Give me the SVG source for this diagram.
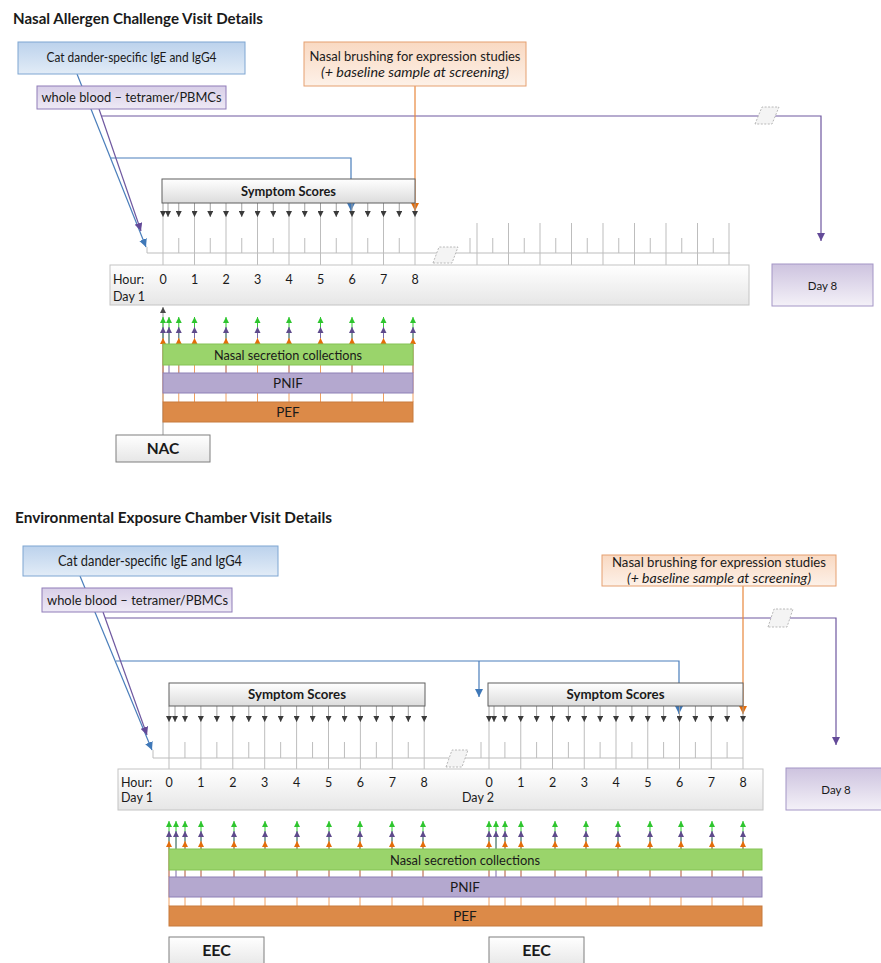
<svg xmlns="http://www.w3.org/2000/svg" width="881" height="963" viewBox="0 0 881 963">
<defs>
<style>
text{font-family:Lato,"Liberation Sans",sans-serif;fill:#1a1a1a}
.ttl{font-size:15px;font-weight:bold}
.lbl{font-size:13.5px}
.it{font-style:italic}
.b{font-weight:bold}
.num{font-size:12.5px}
.mid{text-anchor:middle}
.tk{stroke:#bdbdbd;stroke-width:1;fill:none}
.sa{stroke:#a0a0a0;stroke-width:1;marker-end:url(#mGray)}
.ug{stroke:#33cc33;stroke-width:1;marker-end:url(#mGreen)}
.up{stroke:#7a68a6;stroke-width:1;marker-end:url(#mPurpleS)}
.uo{stroke:#f0a060;stroke-width:1;marker-end:url(#mOrangeS)}
.cb{stroke:#4a7ebb;stroke-width:1.2;fill:none}
.cp{stroke:#6f58a0;stroke-width:1.2;fill:none}
.co{stroke:#e8873c;stroke-width:1.2;fill:none}
.brk{fill:#f4f4f4;stroke:#a8a8a8;stroke-width:0.8;stroke-dasharray:2 1.5}
</style>
<linearGradient id="gBlue" x1="0" y1="0" x2="0" y2="1"><stop offset="0" stop-color="#bcd2ec"/><stop offset="1" stop-color="#e2ecf7"/></linearGradient>
<linearGradient id="gPur" x1="0" y1="0" x2="0" y2="1"><stop offset="0" stop-color="#d8cfe8"/><stop offset="1" stop-color="#eee9f5"/></linearGradient>
<linearGradient id="gOra" x1="0" y1="0" x2="0" y2="1"><stop offset="0" stop-color="#f9d9c2"/><stop offset="1" stop-color="#fdf1e8"/></linearGradient>
<linearGradient id="gDay" x1="0" y1="0" x2="0" y2="1"><stop offset="0" stop-color="#cdc3df"/><stop offset="1" stop-color="#f4f1f8"/></linearGradient>
<linearGradient id="gGray" x1="0" y1="0" x2="0" y2="1"><stop offset="0" stop-color="#ffffff"/><stop offset="1" stop-color="#e6e6e6"/></linearGradient>
<linearGradient id="gSym" x1="0" y1="0" x2="0" y2="1"><stop offset="0" stop-color="#ffffff"/><stop offset="1" stop-color="#dcdcdc"/></linearGradient>
<marker id="mGray" viewBox="0 0 6 6" refX="6" refY="3" markerWidth="6" markerHeight="6" markerUnits="userSpaceOnUse" orient="auto"><path d="M0,0L6,3L0,6z" fill="#3a3a3a"/></marker>
<marker id="mDark" viewBox="0 0 6 6" refX="6" refY="3" markerWidth="6" markerHeight="6" markerUnits="userSpaceOnUse" orient="auto"><path d="M0,0L6,3L0,6z" fill="#4a4a4a"/></marker>
<marker id="mGreen" viewBox="0 0 6 6" refX="6" refY="3" markerWidth="6" markerHeight="7" markerUnits="userSpaceOnUse" orient="auto"><path d="M0,0L6,3L0,6z" fill="#2ec52e"/></marker>
<marker id="mPurpleS" viewBox="0 0 6 6" refX="6" refY="3" markerWidth="6" markerHeight="7" markerUnits="userSpaceOnUse" orient="auto"><path d="M0,0L6,3L0,6z" fill="#5e4a8c"/></marker>
<marker id="mOrangeS" viewBox="0 0 6 6" refX="6" refY="3" markerWidth="6" markerHeight="7" markerUnits="userSpaceOnUse" orient="auto"><path d="M0,0L6,3L0,6z" fill="#e46c0a"/></marker>
<marker id="mBlue" viewBox="0 0 8 8" refX="8" refY="4" markerWidth="8" markerHeight="8" markerUnits="userSpaceOnUse" orient="auto"><path d="M0,0L8,4L0,8z" fill="#3f78b8"/></marker>
<marker id="mPurple" viewBox="0 0 8 8" refX="8" refY="4" markerWidth="8" markerHeight="8" markerUnits="userSpaceOnUse" orient="auto"><path d="M0,0L8,4L0,8z" fill="#634a98"/></marker>
<marker id="mOrange" viewBox="0 0 8 8" refX="8" refY="4" markerWidth="8" markerHeight="8" markerUnits="userSpaceOnUse" orient="auto"><path d="M0,0L8,4L0,8z" fill="#e46c0a"/></marker>
</defs>
<rect width="881" height="963" fill="#ffffff"/>

<!-- ================= TOP SECTION ================= -->
<text id="title-nac" class="ttl" x="13" y="24" textLength="250" lengthAdjust="spacingAndGlyphs">Nasal Allergen Challenge Visit Details</text>

<g id="connectors-top">
<line class="cb" x1="77" y1="74" x2="146" y2="247" marker-end="url(#mBlue)"/>
<polyline class="cb" points="111,158 351,158 351,211" marker-end="url(#mBlue)"/>
<line class="cp" x1="99" y1="109" x2="141" y2="231" marker-end="url(#mPurple)"/>
<polyline class="cp" points="101,116 821,116 821,241" marker-end="url(#mPurple)"/>
<polygon class="brk" points="755,124 762,107 779,107 772,124"/>
<line class="co" x1="415" y1="86" x2="415" y2="211" marker-end="url(#mOrange)"/>
<line stroke="#9a9a9a" stroke-width="1" x1="163" y1="435" x2="163" y2="307" marker-end="url(#mDark)"/>
</g>

<g id="ige-1">
<rect x="18" y="42" width="227" height="32" fill="url(#gBlue)" stroke="#7ea6d2"/>
<text class="lbl mid" x="131.5" y="62" textLength="170" lengthAdjust="spacingAndGlyphs">Cat dander-specific IgE and IgG4</text>
</g>
<g id="blood-1">
<rect x="37" y="86" width="189" height="23" fill="url(#gPur)" stroke="#8f7db8"/>
<text class="lbl mid" x="131.5" y="102" textLength="180" lengthAdjust="spacingAndGlyphs">whole blood – tetramer/PBMCs</text>
</g>
<g id="brush-1">
<rect x="304" y="42" width="222" height="44" fill="url(#gOra)" stroke="#e5a070"/>
<text class="lbl mid" x="415" y="61" textLength="211" lengthAdjust="spacingAndGlyphs">Nasal brushing for expression studies</text>
<text class="lbl mid it" x="415" y="77" textLength="188" lengthAdjust="spacingAndGlyphs">(+ baseline sample at screening)</text>
</g>
<g id="day8-1">
<rect x="772" y="264" width="101" height="42" fill="url(#gDay)" stroke="#a496c6"/>
<text class="mid" x="822.5" y="290" font-size="11.5">Day 8</text>
</g>

<g id="ruler-1">
<path class="tk" d="M147 247V253H730"/>
<path class="tk" d="M163 217V265M194.5 217V265M226 217V265M257.5 217V265M289 217V265M320.5 217V265M352 217V265M383.5 217V265M415 217V265"/>
<path class="tk" d="M178.75 238V253M210.25 238V253M241.75 238V253M273.25 238V253M304.75 238V253M336.25 238V253M367.75 238V253M399.25 238V253"/>
<path class="tk" d="M477 223V265M508.5 223V265M540 223V265M571.5 223V265M603 223V265M634.5 223V265M666 223V265M697.5 223V265M729 223V265"/>
<path class="tk" d="M470 238V253M492.75 238V253M524.25 238V253M555.75 238V253M587.25 238V253M618.75 238V253M650.25 238V253M681.75 238V253M713.25 238V253"/>
<polygon class="brk" points="433,263 439,247 458,247 452,263"/>
</g>

<g id="symptoms-1">
<line class="sa" x1="163" y1="203" x2="163" y2="217"/>
<line class="sa" x1="168" y1="203" x2="168" y2="217"/>
<line class="sa" x1="178.75" y1="203" x2="178.75" y2="217"/>
<line class="sa" x1="194.5" y1="203" x2="194.5" y2="217"/>
<line class="sa" x1="210.25" y1="203" x2="210.25" y2="217"/>
<line class="sa" x1="226" y1="203" x2="226" y2="217"/>
<line class="sa" x1="241.75" y1="203" x2="241.75" y2="217"/>
<line class="sa" x1="257.5" y1="203" x2="257.5" y2="217"/>
<line class="sa" x1="273.25" y1="203" x2="273.25" y2="217"/>
<line class="sa" x1="289" y1="203" x2="289" y2="217"/>
<line class="sa" x1="304.75" y1="203" x2="304.75" y2="217"/>
<line class="sa" x1="320.5" y1="203" x2="320.5" y2="217"/>
<line class="sa" x1="336.25" y1="203" x2="336.25" y2="217"/>
<line class="sa" x1="352" y1="203" x2="352" y2="217"/>
<line class="sa" x1="367.75" y1="203" x2="367.75" y2="217"/>
<line class="sa" x1="383.5" y1="203" x2="383.5" y2="217"/>
<line class="sa" x1="399.25" y1="203" x2="399.25" y2="217"/>
<line class="sa" x1="415" y1="203" x2="415" y2="217"/>
<rect x="162" y="179" width="253" height="24" fill="url(#gSym)" stroke="#5f5f5f"/>
<text class="lbl mid b" x="288.5" y="196" textLength="95" lengthAdjust="spacingAndGlyphs">Symptom Scores</text>
</g>

<g id="hourbar-1">
<rect x="110" y="265" width="639" height="40" fill="url(#gGray)" stroke="#c4c4c4"/>
<text class="num" x="113" y="284">Hour:</text>
<text class="num" x="113" y="301">Day 1</text>
<text class="num mid" x="163" y="284">0</text>
<text class="num mid" x="194.5" y="284">1</text>
<text class="num mid" x="226" y="284">2</text>
<text class="num mid" x="257.5" y="284">3</text>
<text class="num mid" x="289" y="284">4</text>
<text class="num mid" x="320.5" y="284">5</text>
<text class="num mid" x="352" y="284">6</text>
<text class="num mid" x="383.5" y="284">7</text>
<text class="num mid" x="415" y="284">8</text>
</g>

<g id="samples-1">
<line class="ug" x1="163" y1="344" x2="163" y2="317"/><line class="up" x1="163" y1="373" x2="163" y2="327"/><line class="uo" x1="163" y1="402" x2="163" y2="338"/>
<line class="ug" x1="169" y1="344" x2="169" y2="317"/><line class="up" x1="169" y1="373" x2="169" y2="327"/>
<line class="ug" x1="178.75" y1="344" x2="178.75" y2="317"/><line class="up" x1="178.75" y1="373" x2="178.75" y2="327"/><line class="uo" x1="178.75" y1="402" x2="178.75" y2="338"/>
<line class="ug" x1="194.5" y1="344" x2="194.5" y2="317"/><line class="up" x1="194.5" y1="373" x2="194.5" y2="327"/><line class="uo" x1="194.5" y1="402" x2="194.5" y2="338"/>
<line class="ug" x1="226" y1="344" x2="226" y2="317"/><line class="up" x1="226" y1="373" x2="226" y2="327"/><line class="uo" x1="226" y1="402" x2="226" y2="338"/>
<line class="ug" x1="257.5" y1="344" x2="257.5" y2="317"/><line class="up" x1="257.5" y1="373" x2="257.5" y2="327"/><line class="uo" x1="257.5" y1="402" x2="257.5" y2="338"/>
<line class="ug" x1="289" y1="344" x2="289" y2="317"/><line class="up" x1="289" y1="373" x2="289" y2="327"/><line class="uo" x1="289" y1="402" x2="289" y2="338"/>
<line class="ug" x1="320.5" y1="344" x2="320.5" y2="317"/><line class="up" x1="320.5" y1="373" x2="320.5" y2="327"/><line class="uo" x1="320.5" y1="402" x2="320.5" y2="338"/>
<line class="ug" x1="352" y1="344" x2="352" y2="317"/><line class="up" x1="352" y1="373" x2="352" y2="327"/><line class="uo" x1="352" y1="402" x2="352" y2="338"/>
<line class="ug" x1="383.5" y1="344" x2="383.5" y2="317"/><line class="up" x1="383.5" y1="373" x2="383.5" y2="327"/><line class="uo" x1="383.5" y1="402" x2="383.5" y2="338"/>
<line class="ug" x1="413" y1="344" x2="413" y2="317"/><line class="up" x1="413" y1="373" x2="413" y2="327"/><line class="uo" x1="413" y1="402" x2="413" y2="338"/>
</g>

<g id="nasal-1">
<rect x="163" y="344" width="250" height="21" fill="#9ad46b" stroke="#84c254"/>
<text class="lbl mid" x="288" y="360" textLength="148" lengthAdjust="spacingAndGlyphs">Nasal secretion collections</text>
</g>
<g id="pnif-1">
<rect x="163" y="373" width="250" height="20" fill="#b4a8cf" stroke="#8e80b6"/>
<text class="lbl mid" x="288" y="388">PNIF</text>
</g>
<g id="pef-1">
<rect x="163" y="402" width="250" height="20" fill="#dc8a48" stroke="#c77a3c"/>
<text class="lbl mid" x="288" y="417">PEF</text>
</g>
<g id="nac">
<rect x="116" y="435" width="94" height="27" fill="url(#gGray)" stroke="#7f7f7f"/>
<text class="mid b" x="163" y="454" font-size="15.5">NAC</text>
</g>

<!-- ================= BOTTOM SECTION ================= -->
<text id="title-eec" class="ttl" x="15" y="523" font-size="16" textLength="317" lengthAdjust="spacingAndGlyphs">Environmental Exposure Chamber Visit Details</text>

<g id="connectors-bottom">
<line class="cb" x1="80" y1="576" x2="152" y2="750" marker-end="url(#mBlue)"/>
<polyline class="cb" points="116,661 679,661 679,714" marker-end="url(#mBlue)"/>
<line class="cb" x1="479" y1="661" x2="479" y2="697" marker-end="url(#mBlue)"/>
<line class="cp" x1="103" y1="612" x2="147" y2="735" marker-end="url(#mPurple)"/>
<polyline class="cp" points="105,618 836,618 836,745" marker-end="url(#mPurple)"/>
<polygon class="brk" points="768,627 774,609 793,609 787,627"/>
<line class="co" x1="743" y1="586" x2="743" y2="714" marker-end="url(#mOrange)"/>
</g>

<g id="ige-2">
<rect x="23" y="546" width="255" height="30" fill="url(#gBlue)" stroke="#7ea6d2"/>
<text class="mid" font-size="14.5" x="150" y="566" textLength="184" lengthAdjust="spacingAndGlyphs">Cat dander-specific IgE and IgG4</text>
</g>
<g id="blood-2">
<rect x="42" y="588" width="190" height="24" fill="url(#gPur)" stroke="#8f7db8"/>
<text class="lbl mid" x="137.5" y="605" textLength="181" lengthAdjust="spacingAndGlyphs">whole blood – tetramer/PBMCs</text>
</g>
<g id="brush-2">
<rect x="602" y="555" width="234" height="31" fill="url(#gOra)" stroke="#e5a070"/>
<text class="lbl mid" x="719" y="567" textLength="214" lengthAdjust="spacingAndGlyphs">Nasal brushing for expression studies</text>
<text class="lbl mid it" x="719" y="583" textLength="184" lengthAdjust="spacingAndGlyphs">(+ baseline sample at screening)</text>
</g>
<g id="day8-2">
<rect x="786" y="768" width="96" height="42" fill="url(#gDay)" stroke="#a496c6"/>
<text class="mid" x="836" y="794" font-size="11.5">Day 8</text>
</g>

<g id="ruler-2">
<path class="tk" d="M153 750V758H743"/>
<path class="tk" d="M169 722V769M200.9 722V769M232.8 722V769M264.7 722V769M296.6 722V769M328.5 722V769M360.4 722V769M392.3 722V769M424.2 722V769"/>
<path class="tk" d="M184.95 742V758M216.85 742V758M248.75 742V758M280.65 742V758M312.55 742V758M344.45 742V758M376.35 742V758M408.25 742V758"/>
<path class="tk" d="M489 722V769M520.75 722V769M552.5 722V769M584.25 722V769M616 722V769M647.75 722V769M679.5 722V769M711.25 722V769M743 722V769"/>
<path class="tk" d="M481 742V758M504.9 742V758M536.6 742V758M568.4 742V758M600.1 742V758M631.9 742V758M663.6 742V758M695.4 742V758M727.1 742V758"/>
<polygon class="brk" points="446,767 452,750 468,750 462,767"/>
</g>

<g id="symptoms-2a">
<line class="sa" x1="169" y1="706" x2="169" y2="722"/>
<line class="sa" x1="175" y1="706" x2="175" y2="722"/>
<line class="sa" x1="185" y1="706" x2="185" y2="722"/>
<line class="sa" x1="200.9" y1="706" x2="200.9" y2="722"/>
<line class="sa" x1="216.9" y1="706" x2="216.9" y2="722"/>
<line class="sa" x1="232.8" y1="706" x2="232.8" y2="722"/>
<line class="sa" x1="248.8" y1="706" x2="248.8" y2="722"/>
<line class="sa" x1="264.7" y1="706" x2="264.7" y2="722"/>
<line class="sa" x1="280.7" y1="706" x2="280.7" y2="722"/>
<line class="sa" x1="296.6" y1="706" x2="296.6" y2="722"/>
<line class="sa" x1="312.6" y1="706" x2="312.6" y2="722"/>
<line class="sa" x1="328.5" y1="706" x2="328.5" y2="722"/>
<line class="sa" x1="344.5" y1="706" x2="344.5" y2="722"/>
<line class="sa" x1="360.4" y1="706" x2="360.4" y2="722"/>
<line class="sa" x1="376.4" y1="706" x2="376.4" y2="722"/>
<line class="sa" x1="392.3" y1="706" x2="392.3" y2="722"/>
<line class="sa" x1="408.3" y1="706" x2="408.3" y2="722"/>
<line class="sa" x1="424.2" y1="706" x2="424.2" y2="722"/>
<rect x="169" y="683" width="256" height="23" fill="url(#gSym)" stroke="#5f5f5f"/>
<text class="lbl mid b" x="297" y="699" textLength="98" lengthAdjust="spacingAndGlyphs">Symptom Scores</text>
</g>
<g id="symptoms-2b">
<line class="sa" x1="489" y1="706" x2="489" y2="722"/>
<line class="sa" x1="494" y1="706" x2="494" y2="722"/>
<line class="sa" x1="504.9" y1="706" x2="504.9" y2="722"/>
<line class="sa" x1="520.75" y1="706" x2="520.75" y2="722"/>
<line class="sa" x1="536.6" y1="706" x2="536.6" y2="722"/>
<line class="sa" x1="552.5" y1="706" x2="552.5" y2="722"/>
<line class="sa" x1="568.4" y1="706" x2="568.4" y2="722"/>
<line class="sa" x1="584.25" y1="706" x2="584.25" y2="722"/>
<line class="sa" x1="600.1" y1="706" x2="600.1" y2="722"/>
<line class="sa" x1="616" y1="706" x2="616" y2="722"/>
<line class="sa" x1="631.9" y1="706" x2="631.9" y2="722"/>
<line class="sa" x1="647.75" y1="706" x2="647.75" y2="722"/>
<line class="sa" x1="663.6" y1="706" x2="663.6" y2="722"/>
<line class="sa" x1="679.5" y1="706" x2="679.5" y2="722"/>
<line class="sa" x1="695.4" y1="706" x2="695.4" y2="722"/>
<line class="sa" x1="711.25" y1="706" x2="711.25" y2="722"/>
<line class="sa" x1="727.1" y1="706" x2="727.1" y2="722"/>
<line class="sa" x1="743" y1="706" x2="743" y2="722"/>
<rect x="488" y="683" width="255" height="23" fill="url(#gSym)" stroke="#5f5f5f"/>
<text class="lbl mid b" x="615.5" y="699" textLength="98" lengthAdjust="spacingAndGlyphs">Symptom Scores</text>
</g>

<g id="hourbar-2">
<rect x="118" y="769" width="645" height="41" fill="url(#gGray)" stroke="#c4c4c4"/>
<text class="num" x="121" y="787">Hour:</text>
<text class="num" x="121" y="802">Day 1</text>
<text class="num" x="462" y="802">Day 2</text>
<text class="num mid" x="169" y="787">0</text>
<text class="num mid" x="200.9" y="787">1</text>
<text class="num mid" x="232.8" y="787">2</text>
<text class="num mid" x="264.7" y="787">3</text>
<text class="num mid" x="296.6" y="787">4</text>
<text class="num mid" x="328.5" y="787">5</text>
<text class="num mid" x="360.4" y="787">6</text>
<text class="num mid" x="392.3" y="787">7</text>
<text class="num mid" x="424.2" y="787">8</text>
<text class="num mid" x="489" y="787">0</text>
<text class="num mid" x="520.75" y="787">1</text>
<text class="num mid" x="552.5" y="787">2</text>
<text class="num mid" x="584.25" y="787">3</text>
<text class="num mid" x="616" y="787">4</text>
<text class="num mid" x="647.75" y="787">5</text>
<text class="num mid" x="679.5" y="787">6</text>
<text class="num mid" x="711.25" y="787">7</text>
<text class="num mid" x="743" y="787">8</text>
</g>

<g id="samples-2">
<line class="ug" x1="169" y1="849" x2="169" y2="821"/><line class="up" x1="169" y1="877" x2="169" y2="831"/><line class="uo" x1="169" y1="906" x2="169" y2="841"/>
<line class="ug" x1="176" y1="849" x2="176" y2="821"/><line class="up" x1="176" y1="877" x2="176" y2="831"/>
<line class="ug" x1="185" y1="849" x2="185" y2="821"/><line class="up" x1="185" y1="877" x2="185" y2="831"/><line class="uo" x1="185" y1="906" x2="185" y2="841"/>
<line class="ug" x1="201" y1="849" x2="201" y2="821"/><line class="up" x1="201" y1="877" x2="201" y2="831"/><line class="uo" x1="201" y1="906" x2="201" y2="841"/>
<line class="ug" x1="234" y1="849" x2="234" y2="821"/><line class="up" x1="234" y1="877" x2="234" y2="831"/><line class="uo" x1="234" y1="906" x2="234" y2="841"/>
<line class="ug" x1="265" y1="849" x2="265" y2="821"/><line class="up" x1="265" y1="877" x2="265" y2="831"/><line class="uo" x1="265" y1="906" x2="265" y2="841"/>
<line class="ug" x1="297" y1="849" x2="297" y2="821"/><line class="up" x1="297" y1="877" x2="297" y2="831"/><line class="uo" x1="297" y1="906" x2="297" y2="841"/>
<line class="ug" x1="329" y1="849" x2="329" y2="821"/><line class="up" x1="329" y1="877" x2="329" y2="831"/><line class="uo" x1="329" y1="906" x2="329" y2="841"/>
<line class="ug" x1="360" y1="849" x2="360" y2="821"/><line class="up" x1="360" y1="877" x2="360" y2="831"/><line class="uo" x1="360" y1="906" x2="360" y2="841"/>
<line class="ug" x1="392" y1="849" x2="392" y2="821"/><line class="up" x1="392" y1="877" x2="392" y2="831"/><line class="uo" x1="392" y1="906" x2="392" y2="841"/>
<line class="ug" x1="423" y1="849" x2="423" y2="821"/><line class="up" x1="423" y1="877" x2="423" y2="831"/><line class="uo" x1="423" y1="906" x2="423" y2="841"/>
<line class="ug" x1="489" y1="849" x2="489" y2="821"/><line class="up" x1="489" y1="877" x2="489" y2="831"/><line class="uo" x1="489" y1="906" x2="489" y2="841"/>
<line class="ug" x1="496" y1="849" x2="496" y2="821"/><line class="up" x1="496" y1="877" x2="496" y2="831"/>
<line class="ug" x1="505" y1="849" x2="505" y2="821"/><line class="up" x1="505" y1="877" x2="505" y2="831"/><line class="uo" x1="505" y1="906" x2="505" y2="841"/>
<line class="ug" x1="521" y1="849" x2="521" y2="821"/><line class="up" x1="521" y1="877" x2="521" y2="831"/><line class="uo" x1="521" y1="906" x2="521" y2="841"/>
<line class="ug" x1="555" y1="849" x2="555" y2="821"/><line class="up" x1="555" y1="877" x2="555" y2="831"/><line class="uo" x1="555" y1="906" x2="555" y2="841"/>
<line class="ug" x1="586" y1="849" x2="586" y2="821"/><line class="up" x1="586" y1="877" x2="586" y2="831"/><line class="uo" x1="586" y1="906" x2="586" y2="841"/>
<line class="ug" x1="618" y1="849" x2="618" y2="821"/><line class="up" x1="618" y1="877" x2="618" y2="831"/><line class="uo" x1="618" y1="906" x2="618" y2="841"/>
<line class="ug" x1="650" y1="849" x2="650" y2="821"/><line class="up" x1="650" y1="877" x2="650" y2="831"/><line class="uo" x1="650" y1="906" x2="650" y2="841"/>
<line class="ug" x1="681" y1="849" x2="681" y2="821"/><line class="up" x1="681" y1="877" x2="681" y2="831"/><line class="uo" x1="681" y1="906" x2="681" y2="841"/>
<line class="ug" x1="712" y1="849" x2="712" y2="821"/><line class="up" x1="712" y1="877" x2="712" y2="831"/><line class="uo" x1="712" y1="906" x2="712" y2="841"/>
<line class="ug" x1="743" y1="849" x2="743" y2="821"/><line class="up" x1="743" y1="877" x2="743" y2="831"/><line class="uo" x1="743" y1="906" x2="743" y2="841"/>
</g>

<g id="nasal-2">
<rect x="169" y="849" width="593" height="21" fill="#9ad46b" stroke="#84c254"/>
<text class="lbl mid" x="465" y="865" textLength="150" lengthAdjust="spacingAndGlyphs">Nasal secretion collections</text>
</g>
<g id="pnif-2">
<rect x="169" y="877" width="593" height="20" fill="#b4a8cf" stroke="#8e80b6"/>
<text class="lbl mid" x="465" y="892">PNIF</text>
</g>
<g id="pef-2">
<rect x="169" y="906" width="593" height="20" fill="#dc8a48" stroke="#c77a3c"/>
<text class="lbl mid" x="465" y="921">PEF</text>
</g>
<g id="eec-1">
<rect x="169" y="937" width="95" height="30" fill="url(#gGray)" stroke="#7f7f7f"/>
<text class="mid b" x="216.5" y="956" font-size="16">EEC</text>
</g>
<g id="eec-2">
<rect x="489" y="937" width="95" height="30" fill="url(#gGray)" stroke="#7f7f7f"/>
<text class="mid b" x="536.5" y="956" font-size="16">EEC</text>
</g>
</svg>
